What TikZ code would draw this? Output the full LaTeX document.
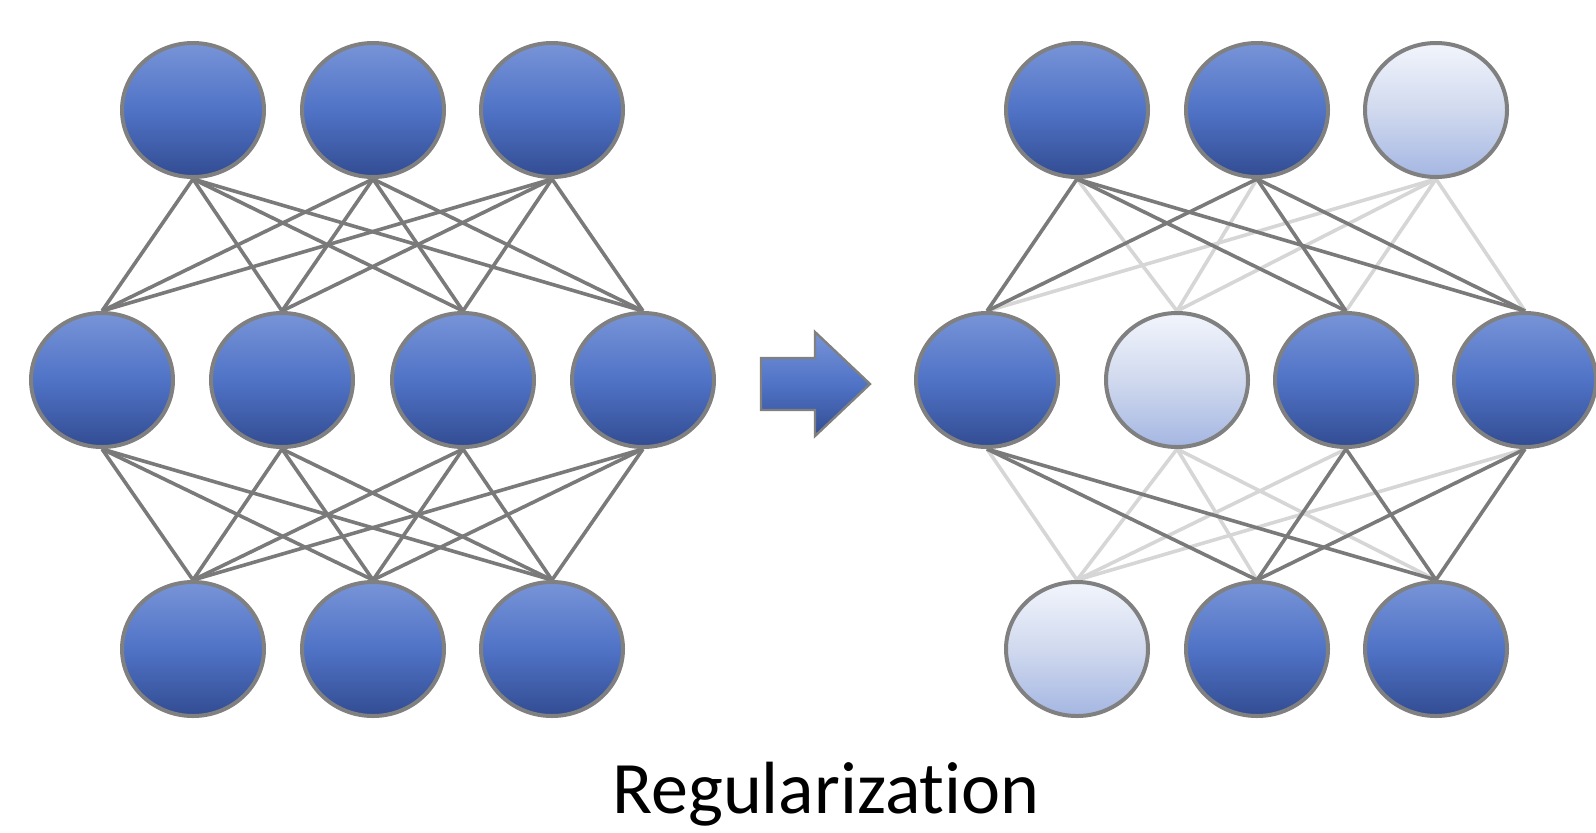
\documentclass[tikz,border=0pt]{standalone}
\usepackage{fontspec}
\setmainfont[Ligatures=NoCommon]{Carlito}
\usepackage{tikz}
\usetikzlibrary{positioning,shapes.geometric,backgrounds}

\definecolor{unittop}{RGB}{120,148,216}
\definecolor{unitmid}{RGB}{80,115,198}
\definecolor{unitbot}{RGB}{50,76,146}
\definecolor{droptop}{RGB}{242,245,252}
\definecolor{dropmid}{RGB}{208,217,238}
\definecolor{dropbot}{RGB}{164,182,226}
\definecolor{rimgray}{RGB}{128,128,128}
\definecolor{linkgray}{RGB}{122,122,122}
\definecolor{fadegray}{RGB}{214,214,214}

\begin{document}
\begin{tikzpicture}[
      x=0.5pt, y=-0.5pt
    ]

    \tikzstyle{unit} = [ellipse, minimum width=71pt, minimum height=67pt, inner sep=0pt, draw=rimgray, line width=2pt, top color=unittop, bottom color=unitbot, middle color=unitmid]

    \tikzstyle{dropped} = [unit, top color=droptop, bottom color=dropbot, middle color=dropmid]

    \tikzstyle{link} = [draw=linkgray, line width=1.8pt]

    \tikzstyle{faint} = [draw=fadegray, line width=1.8pt]

    \useasboundingbox (0,0) rectangle (1596,832);

    % full network
    \node [unit] (lt1) at (193,110) {};
    \node [unit] (lt2) at (373,110) {};
    \node [unit] (lt3) at (552,110) {};
    \node [unit] (lm1) at (102,380) {};
    \node [unit] (lm2) at (282,380) {};
    \node [unit] (lm3) at (463,380) {};
    \node [unit] (lm4) at (643,380) {};
    \node [unit] (lb1) at (193,649) {};
    \node [unit] (lb2) at (373,649) {};
    \node [unit] (lb3) at (552,649) {};

    % thinned network
    \node [unit]    (rt1) at (1077,110) {};
    \node [unit]    (rt2) at (1257,110) {};
    \node [dropped] (rt3) at (1436,110) {};
    \node [unit]    (rm1) at (987,380) {};
    \node [dropped] (rm2) at (1177,380) {};
    \node [unit]    (rm3) at (1346,380) {};
    \node [unit]    (rm4) at (1525,380) {};
    \node [dropped] (rb1) at (1077,649) {};
    \node [unit]    (rb2) at (1257,649) {};
    \node [unit]    (rb3) at (1436,649) {};

    \begin{scope}[on background layer]
    \foreach \i in {1,2,3} {
      \foreach \j in {1,2,3,4} {
        \draw [link] (lt\i.south) -- (lm\j.north);
        \draw [link] (lm\j.south) -- (lb\i.north);
      }
    }
    % dropped links first, kept links on top
    \foreach \j in {1,2,3,4} {
      \draw [faint] (rt3.south) -- (rm\j.north);
      \draw [faint] (rm\j.south) -- (rb1.north);
    }
    \foreach \i in {1,2} \draw [faint] (rt\i.south) -- (rm2.north);
    \foreach \i in {2,3} \draw [faint] (rm2.south) -- (rb\i.north);
    \foreach \i in {1,2} {
      \foreach \j in {1,3,4} \draw [link] (rt\i.south) -- (rm\j.north);
    }
    \foreach \j in {1,3,4} {
      \foreach \i in {2,3} \draw [link] (rm\j.south) -- (rb\i.north);
    }
    \end{scope}

    \path [draw=rimgray, line width=1.2pt, top color=unittop, bottom color=unitbot, middle color=unitmid]
      (761,358) -- (815,358) -- (815,332) -- (870,384) -- (815,436) -- (815,410) -- (761,410) -- cycle;

    \node [anchor=base, font=\fontsize{37}{44}\selectfont] (title) at (826,813) {Regularization};

\end{tikzpicture}
\end{document}
